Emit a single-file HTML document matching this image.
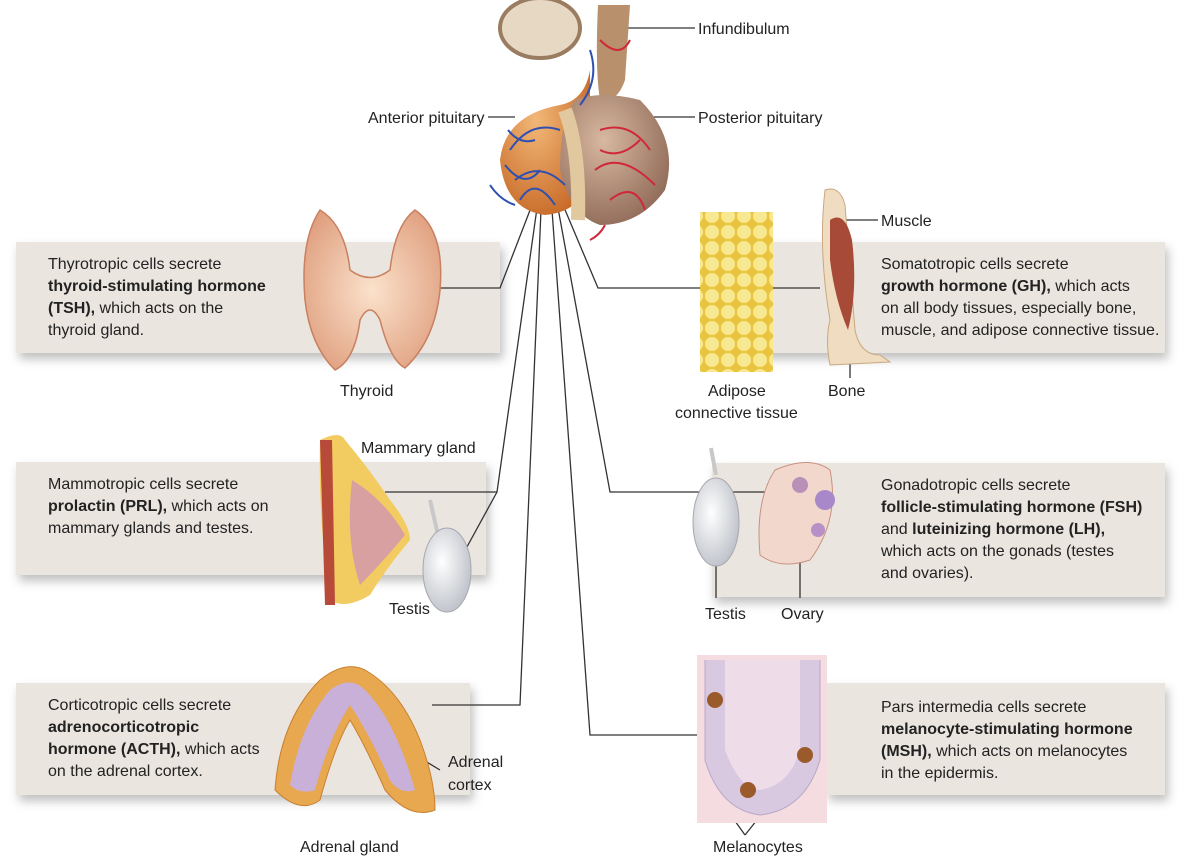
<!DOCTYPE html>
<html><head><meta charset="utf-8"><style>
html,body{margin:0;padding:0;background:#fff}
svg{display:block}
text{font-family:"Liberation Sans",sans-serif;font-size:16px;fill:#222}
.b{font-weight:bold}
</style></head><body>
<svg width="1203" height="864" viewBox="0 0 1203 864" xmlns="http://www.w3.org/2000/svg">
<defs>
<filter id="sh" x="-5%" y="-10%" width="115%" height="140%"><feDropShadow dx="3" dy="6" stdDeviation="5" flood-color="#000" flood-opacity="0.25"/></filter>
<radialGradient id="ant" cx="0.4" cy="0.35" r="0.7"><stop offset="0" stop-color="#f2b878"/><stop offset="1" stop-color="#c86a28"/></radialGradient>
<radialGradient id="post" cx="0.4" cy="0.35" r="0.7"><stop offset="0" stop-color="#d8b8a0"/><stop offset="1" stop-color="#8f6a58"/></radialGradient>
<radialGradient id="thy" cx="0.5" cy="0.5" r="0.6"><stop offset="0" stop-color="#fbe2cc"/><stop offset="1" stop-color="#e0a080"/></radialGradient>
<radialGradient id="tes" cx="0.4" cy="0.4" r="0.7"><stop offset="0" stop-color="#ffffff"/><stop offset="1" stop-color="#b8bcc4"/></radialGradient>
<pattern id="fat" width="16" height="16" patternUnits="userSpaceOnUse"><rect width="16" height="16" fill="#e8c440"/><circle cx="8" cy="8" r="7" fill="#f8e890"/></pattern>
</defs>
<g fill="#ebe5df" filter="url(#sh)">
<rect x="16" y="242" width="484" height="111"/>
<rect x="705" y="242" width="460" height="111"/>
<rect x="16" y="462" width="470" height="113"/>
<rect x="712" y="463" width="453" height="134"/>
<rect x="16" y="683" width="454" height="112"/>
<rect x="826" y="683" width="339" height="112"/>
</g>
<g stroke="#333" stroke-width="1.3" fill="none">
<polyline points="532,205 500,288 440,288"/>
<polyline points="537,208 497,492 385,492"/>
<polyline points="497,492 462,556"/>
<polyline points="541,210 520,705 432,705"/>
<polyline points="552,210 590,735 700,735"/>
<polyline points="558,208 610,492 700,492"/>
<polyline points="563,205 598,288 700,288"/>
<line x1="770" y1="288" x2="820" y2="288"/>
<line x1="720" y1="492" x2="770" y2="492"/>
<line x1="620" y1="28" x2="695" y2="28"/>
<line x1="488" y1="117" x2="515" y2="117"/>
<line x1="605" y1="117" x2="695" y2="117"/>
<line x1="845" y1="220" x2="878" y2="220"/>
<line x1="716" y1="560" x2="716" y2="598"/>
<line x1="800" y1="540" x2="800" y2="598"/>
<line x1="850" y1="300" x2="850" y2="378"/>
<line x1="415" y1="755" x2="440" y2="770"/>
<line x1="720" y1="800" x2="745" y2="835"/>
<line x1="745" y1="835" x2="805" y2="760"/>
</g>
<ellipse cx="540" cy="28" rx="40" ry="30" fill="#e6d8c2" stroke="#9a7c60" stroke-width="4"/>
<path d="M598,5 L630,5 L625,80 Q620,95 610,100 L600,100 Q595,70 598,5Z" fill="#b8906c"/>
<path d="M590,70 Q585,100 560,105 Q505,115 500,160 Q505,210 545,215 Q580,212 590,180Z" fill="url(#ant)"/>
<path d="M575,100 Q600,90 640,100 Q680,140 665,190 Q640,225 600,225 Q570,215 560,170 Q560,120 575,100Z" fill="url(#post)"/>
<path d="M565,110 Q580,150 578,220" stroke="#e2c89e" stroke-width="14" fill="none"/>
<g stroke="#3050b0" stroke-width="2" fill="none">
<path d="M510,150 Q530,120 560,130 M515,180 Q540,160 565,185 M520,200 Q535,175 555,205 M505,165 Q525,190 540,170 M590,50 Q600,80 580,105 M490,185 Q500,200 515,205 M508,130 Q520,145 535,140"/>
</g>
<g stroke="#d02838" stroke-width="2" fill="none">
<path d="M600,130 Q630,120 650,150 M595,170 Q620,150 655,185 M610,200 Q635,180 645,210 M600,40 Q620,60 630,40 M605,225 Q600,235 590,240 M600,150 Q620,160 640,140"/>
</g>
<path d="M320,210 Q300,240 305,300 Q310,345 335,370 Q355,360 360,320 Q370,300 380,320 Q390,360 405,368 Q435,340 440,290 Q445,230 415,210 Q395,225 390,270 Q370,285 350,270 Q345,225 320,210Z" fill="url(#thy)" stroke="#c88060" stroke-width="1.5"/>
<rect x="700" y="212" width="73" height="160" fill="url(#fat)"/>
<path d="M825,190 Q840,185 845,205 L855,330 Q860,355 880,355 L890,362 L830,365 Q825,340 830,320 Q818,250 825,190Z" fill="#f0dcc0" stroke="#c8a880"/>
<path d="M830,220 Q845,210 852,240 Q858,290 848,330 Q835,300 830,260Z" fill="#a84a38"/>
<path d="M320,440 Q340,430 345,440 Q370,470 390,500 Q410,525 410,540 Q385,570 370,595 Q345,610 330,600 Q318,520 320,440Z" fill="#f2cc60"/>
<path d="M320,440 L332,440 L335,605 L325,605Z" fill="#b84a3a"/>
<path d="M352,480 Q385,500 405,535 Q380,565 360,585 Q345,540 352,480Z" fill="#d8a0a0"/>
<path d="M430,500 L438,535" stroke="#c8c8c8" stroke-width="4"/>
<ellipse cx="447" cy="570" rx="24" ry="42" fill="url(#tes)" stroke="#a8a8b0"/>
<path d="M711,448 L716,475" stroke="#c8c8c8" stroke-width="4"/>
<ellipse cx="716" cy="522" rx="23" ry="44" fill="url(#tes)" stroke="#a8a8b0"/>
<path d="M775,470 Q810,455 830,470 Q840,520 810,560 Q780,570 760,555 Q755,500 775,470Z" fill="#f2d8cc" stroke="#c89080"/>
<circle cx="800" cy="485" r="8" fill="#b890b8"/><circle cx="825" cy="500" r="10" fill="#a888c8"/><circle cx="818" cy="530" r="7" fill="#b890c8"/>
<path d="M275,790 Q280,720 320,680 Q345,660 365,670 Q400,690 420,740 Q435,780 435,810 Q410,820 385,790 Q365,745 350,720 Q335,745 320,800 Q300,815 275,790Z" fill="#e8a850" stroke="#c88030"/>
<path d="M290,785 Q300,725 330,690 Q350,675 365,690 Q395,720 415,790 Q400,795 390,780 Q370,735 350,705 Q330,735 315,790 Q300,795 290,785Z" fill="#c8b0d8"/>
<rect x="697" y="655" width="130" height="168" fill="#f4dce0"/>
<path d="M705,660 L705,760 Q720,810 760,815 Q805,810 820,760 L820,660" fill="#d8c8e0" stroke="#b8a8c8"/>
<path d="M725,660 L725,750 Q740,790 760,790 Q790,785 800,750 L800,660Z" fill="#eedce8"/>
<circle cx="715" cy="700" r="8" fill="#9a5a2a"/><circle cx="748" cy="790" r="8" fill="#9a5a2a"/><circle cx="805" cy="755" r="8" fill="#9a5a2a"/>
<text x="698" y="34">Infundibulum</text>
<text x="368" y="123">Anterior pituitary</text>
<text x="698" y="123">Posterior pituitary</text>
<text x="881" y="226">Muscle</text>
<text x="340" y="396">Thyroid</text>
<text x="708" y="396">Adipose</text>
<text x="675" y="418">connective tissue</text>
<text x="828" y="396">Bone</text>
<text x="361" y="453">Mammary gland</text>
<text x="389" y="614">Testis</text>
<text x="705" y="619">Testis</text>
<text x="781" y="619">Ovary</text>
<text x="448" y="767">Adrenal</text>
<text x="448" y="790">cortex</text>
<text x="300" y="852">Adrenal gland</text>
<text x="713" y="852">Melanocytes</text>
<text x="48" y="269">Thyrotropic cells secrete</text>
<text x="48" y="291" class="b">thyroid-stimulating hormone</text>
<text x="48" y="313"><tspan class="b">(TSH),</tspan> which acts on the</text>
<text x="48" y="335">thyroid gland.</text>
<text x="881" y="269">Somatotropic cells secrete</text>
<text x="881" y="291"><tspan class="b">growth hormone (GH),</tspan> which acts</text>
<text x="881" y="313">on all body tissues, especially bone,</text>
<text x="881" y="335">muscle, and adipose connective tissue.</text>
<text x="48" y="489">Mammotropic cells secrete</text>
<text x="48" y="511"><tspan class="b">prolactin (PRL),</tspan> which acts on</text>
<text x="48" y="533">mammary glands and testes.</text>
<text x="881" y="490">Gonadotropic cells secrete</text>
<text x="881" y="512" class="b">follicle-stimulating hormone (FSH)</text>
<text x="881" y="534">and <tspan class="b">luteinizing hormone (LH),</tspan></text>
<text x="881" y="556">which acts on the gonads (testes</text>
<text x="881" y="578">and ovaries).</text>
<text x="48" y="710">Corticotropic cells secrete</text>
<text x="48" y="732" class="b">adrenocorticotropic</text>
<text x="48" y="754"><tspan class="b">hormone (ACTH),</tspan> which acts</text>
<text x="48" y="776">on the adrenal cortex.</text>
<text x="881" y="712">Pars intermedia cells secrete</text>
<text x="881" y="734" class="b">melanocyte-stimulating hormone</text>
<text x="881" y="756"><tspan class="b">(MSH),</tspan> which acts on melanocytes</text>
<text x="881" y="778">in the epidermis.</text>
</svg>
</body></html>
